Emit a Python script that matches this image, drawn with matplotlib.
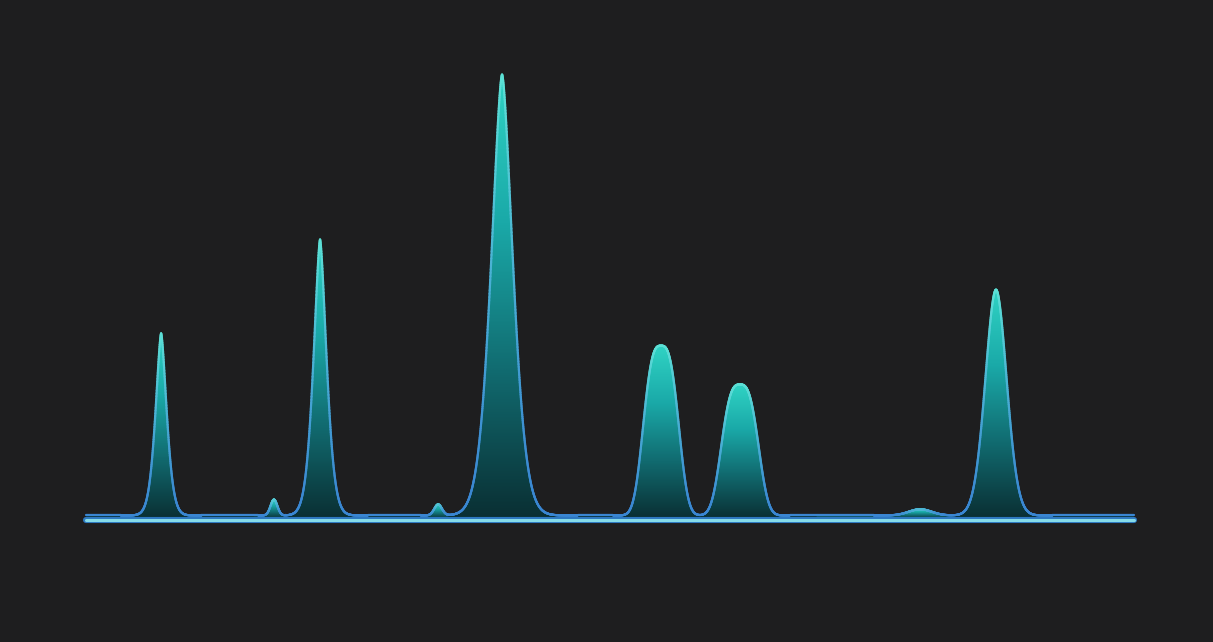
import numpy as np
import matplotlib
matplotlib.use("Agg")
import matplotlib.pyplot as plt
from matplotlib.collections import LineCollection
from matplotlib.colors import LinearSegmentedColormap, to_rgb

# peak table (retention time, relative intensity, FWHM, shape)
peak_time = [2.15, 5.38, 6.70, 10.08, 11.91, 16.46, 18.72, 23.88, 26.05]
peak_height = [41.3, 3.6, 62.6, 2.5, 100.0, 38.5, 29.7, 1.4, 51.2]
peak_fwhm = [0.37, 0.23, 0.43, 0.26, 0.72, 1.05, 1.10, 0.77, 0.72]
peak_shape = [1.55, 2.0, 1.55, 2.0, 1.6, 3.0, 3.0, 2.0, 1.9]
baseline_offset = 0.8
run_start, run_end = 0.0, 30.0

BG = "#1e1e1f"

t = np.linspace(run_start, run_end, 6000)
comps = []
for c, h, w, p in zip(peak_time, peak_height, peak_fwhm, peak_shape):
    # generalised peak, scaled so that w is the full width at half maximum
    s = (w / 2) / (2 * np.log(2)) ** (1 / p)
    comps.append(h * np.exp(-0.5 * np.abs((t - c) / s) ** p))
comps = np.array(comps)
signal = comps.sum(axis=0) + baseline_offset
# height of the peak that dominates each point, for per-peak shading
local_top = np.array(peak_height)[comps.argmax(axis=0)] + baseline_offset

fig = plt.figure(figsize=(12.13, 6.42), dpi=100)
fig.patch.set_facecolor(BG)
ax = fig.add_axes([0, 0, 1, 1])
ax.set_facecolor(BG)
ax.set_xlim(-2.462, 32.262)
ax.set_ylim(-27.9, 117.7)
ax.axis("off")

fill_cmap = LinearSegmentedColormap.from_list(
    "fill", ["#0a2f33", "#116b70", "#1aa9a8", "#30d3c4"])

# gradient image, clipped to the area under the trace
ny = 400
yy = np.linspace(0, signal.max(), ny)
frac = np.clip(yy[:, None] / local_top[None, :], 0, 1)
img = ax.imshow(frac, extent=[t[0], t[-1], 0, signal.max()], origin="lower",
                aspect="auto", cmap=fill_cmap, vmin=0, vmax=1, zorder=2,
                interpolation="bilinear")
poly = ax.fill_between(t, 0, signal, color="none", lw=0)
img.set_clip_path(poly.get_paths()[0], transform=ax.transData)

# outline coloured from blue at the foot to cyan at the apex
pts = np.column_stack([t, signal]).reshape(-1, 1, 2)
segs = np.concatenate([pts[:-1], pts[1:]], axis=1)
lo, hi = np.array(to_rgb("#3a86d2")), np.array(to_rgb("#5de3d6"))
f = np.clip((signal - baseline_offset) / local_top, 0, 1)
f = ((f[:-1] + f[1:]) / 2) ** 1.3
cols = lo[None, :] * (1 - f[:, None]) + hi[None, :] * f[:, None]
ax.add_collection(LineCollection(segs, colors=cols, linewidths=1.6, zorder=3,
                                 capstyle="round"))

# axis baseline
ax.plot([run_start, run_end], [-0.25, -0.25], color="#2d78c0", lw=4.4,
        solid_capstyle="round", zorder=4)
ax.plot([run_start, run_end], [-0.25, -0.25], color="#86dbe8", lw=2.2,
        solid_capstyle="round", zorder=5)

fig.savefig("out.png", dpi=100, facecolor=BG)
